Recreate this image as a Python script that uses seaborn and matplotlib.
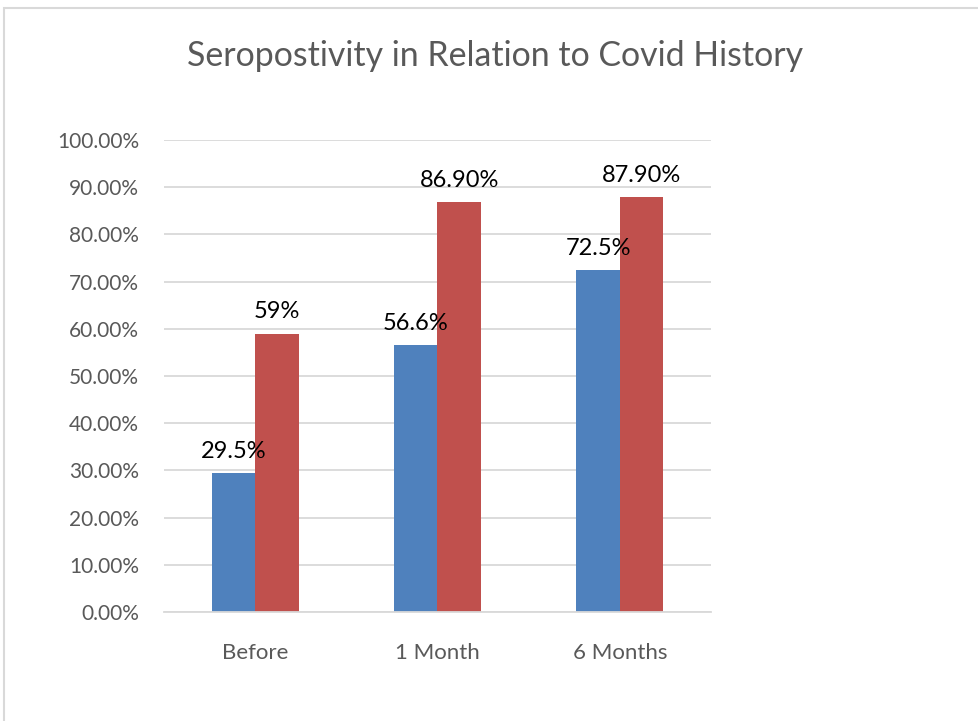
import numpy as np
import pandas as pd
import seaborn as sns
import matplotlib.pyplot as plt
from matplotlib.patches import Rectangle
from matplotlib.ticker import PercentFormatter

# ------------------------------------------------------------
# Seropositivity in relation to Covid history (grouped bars)
# ------------------------------------------------------------

CATEGORIES = ["Before", "1 Month", "6 Months"]
SERIES = ["Series A", "Series B"]
VALUES_A = [0.295, 0.566, 0.725]
VALUES_B = [0.59, 0.869, 0.879]
LABELS_A = ["29.5%", "56.6%", "72.5%"]
LABELS_B = ["59%", "86.90%", "87.90%"]
Y_TICKS = [0.0, 0.1, 0.2, 0.3, 0.4, 0.5, 0.6, 0.7, 0.8, 0.9, 1.0]

C_BLUE = "#4F81BD"
C_RED = "#C0504D"
C_GRID = "#D9D9D9"
C_TEXT = "#595959"


def main():
    df = pd.DataFrame({
        "Period": CATEGORIES * 2,
        "Series": [SERIES[0]] * len(CATEGORIES) + [SERIES[1]] * len(CATEGORIES),
        "Value": VALUES_A + VALUES_B,
    })

    sns.set_theme(style="white")
    plt.rcParams["font.family"] = ["Lato", "DejaVu Sans"]

    fig = plt.figure(figsize=(9.79, 7.21), dpi=100)
    ax = fig.add_axes([164 / 979, 1 - 612 / 721, 547 / 979, 472 / 721])

    sns.barplot(
        data=df,
        x="Period",
        y="Value",
        hue="Series",
        order=CATEGORIES,
        hue_order=SERIES,
        palette=[C_BLUE, C_RED],
        width=0.477,
        saturation=1,
        edgecolor="none",
        legend=False,
        ax=ax,
    )

    for container, labels in zip(ax.containers, [LABELS_A, LABELS_B]):
        ax.bar_label(container, labels=labels, padding=8, fontsize=17, color="black")

    ax.set_xlim(-0.5, 2.5)
    ax.set_ylim(0, 1.0)
    ax.set_yticks(Y_TICKS)
    ax.yaxis.set_major_formatter(PercentFormatter(xmax=1.0, decimals=2))
    ax.yaxis.grid(True, color=C_GRID, linewidth=1.3)
    ax.set_axisbelow(True)

    for side in ["top", "right", "left"]:
        ax.spines[side].set_visible(False)
    ax.spines["bottom"].set_color(C_GRID)
    ax.spines["bottom"].set_linewidth(1.3)

    ax.set_xlabel("")
    ax.set_ylabel("")
    ax.tick_params(axis="y", length=0, pad=18, labelsize=15, labelcolor=C_TEXT)
    ax.tick_params(axis="x", length=0, pad=22, labelsize=16, labelcolor=C_TEXT)

    fig.text(
        495 / 979,
        1 - 56 / 721,
        "Seropostivity in Relation to Covid History",
        ha="center",
        va="center",
        fontsize=24.4,
        color=C_TEXT,
    )

    # chart-area border
    fig.add_artist(Rectangle(
        (3.5 / 979, -0.1),
        1.2,
        1.1 - 8 / 721,
        transform=fig.transFigure,
        fill=False,
        edgecolor=C_GRID,
        linewidth=1.5,
    ))

    fig.savefig("out.png", dpi=100)
    plt.close(fig)


if __name__ == "__main__":
    main()
